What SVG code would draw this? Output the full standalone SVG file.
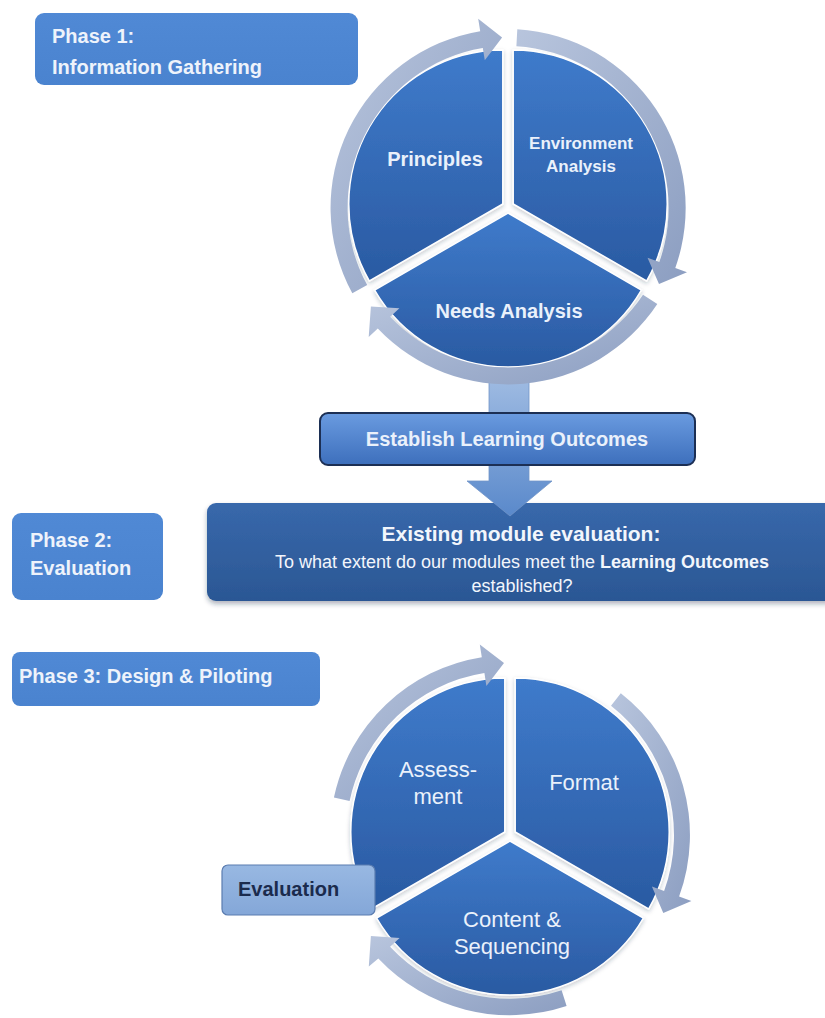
<svg xmlns="http://www.w3.org/2000/svg" width="825" height="1018" viewBox="0 0 825 1018">
  <defs>
    <linearGradient id="gSector" x1="0" y1="0" x2="0" y2="1">
      <stop offset="0" stop-color="#3f7bcb"/>
      <stop offset="1" stop-color="#2a5aa2"/>
    </linearGradient>
    <linearGradient id="gRing" x1="0" y1="0" x2="1" y2="1">
      <stop offset="0" stop-color="#b8c5dd"/>
      <stop offset="1" stop-color="#8c9ec1"/>
    </linearGradient>
    <linearGradient id="gLabel" x1="0" y1="0" x2="0" y2="1">
      <stop offset="0" stop-color="#5089d5"/>
      <stop offset="1" stop-color="#4a83cf"/>
    </linearGradient>
    <linearGradient id="gDark" x1="0" y1="0" x2="0" y2="1">
      <stop offset="0" stop-color="#3868ab"/>
      <stop offset="1" stop-color="#2b5794"/>
    </linearGradient>
    <linearGradient id="gEstablish" x1="0" y1="0" x2="0" y2="1">
      <stop offset="0" stop-color="#6a9be0"/>
      <stop offset="1" stop-color="#3d6fbc"/>
    </linearGradient>
    <linearGradient id="gArrow" x1="0" y1="0" x2="0" y2="1">
      <stop offset="0" stop-color="#9fbbe2"/>
      <stop offset="1" stop-color="#5a89cb"/>
    </linearGradient>
    <linearGradient id="gEval" x1="0" y1="0" x2="0" y2="1">
      <stop offset="0" stop-color="#98b8e2"/>
      <stop offset="1" stop-color="#84a7d8"/>
    </linearGradient>
    <filter id="shadow" x="-10%" y="-10%" width="120%" height="130%">
      <feDropShadow dx="0" dy="3" stdDeviation="2.5" flood-color="#1a2a44" flood-opacity="0.35"/>
    </filter>
    <filter id="softShadow" x="-10%" y="-10%" width="120%" height="130%">
      <feDropShadow dx="0" dy="2" stdDeviation="2" flood-color="#1a2a44" flood-opacity="0.25"/>
    </filter>
  </defs>
  <style>
    text { font-family: "Liberation Sans", Arial, sans-serif; }
    .label { fill: url(#gLabel); }
    .labelText { font-weight: bold; font-size: 20px; fill: #eef3fb; }
    .sector { fill: url(#gSector); stroke: #ffffff; stroke-width: 1.5; filter: url(#softShadow); }
    .ring { fill: url(#gRing); }
    .secBold { font-weight: bold; fill: #eaf1fb; text-anchor: middle; }
    .secReg { font-size: 22px; fill: #eaf1fb; text-anchor: middle; }
    .darkText { fill: #f2f6fc; text-anchor: middle; }
  </style>
  <rect width="825" height="1018" fill="#ffffff"/>

  <!-- Phase 2 dark box (under arrow tip) -->
  <g id="module-evaluation">
    <rect x="207" y="503" width="630" height="98" rx="9" fill="url(#gDark)" filter="url(#shadow)"/>
    <text class="darkText" x="521" y="541" font-size="21" font-weight="bold">Existing module evaluation:</text>
    <text class="darkText" x="522" y="568" font-size="18">To what extent do our modules meet the <tspan font-weight="bold">Learning Outcomes</tspan></text>
    <text class="darkText" x="522" y="592" font-size="18">established?</text>
  </g>

  <!-- Top cycle nodes -->
  <g id="principles">
    <path class="sector" d="M502.8,204 L369.4,281 A154,154 0 0 1 502.8,50 Z"/>
    <text class="secBold" x="435" y="166" font-size="20">Principles</text>
  </g>
  <g id="environment-analysis">
    <path class="sector" d="M513.2,204 L513.2,50 A154,154 0 0 1 646.6,281 Z"/>
    <text class="secBold" x="581" y="149" font-size="17">Environment</text>
    <text class="secBold" x="581" y="172" font-size="17">Analysis</text>
  </g>
  <g id="needs-analysis">
    <path class="sector" d="M508,213 L641.4,290 A154,154 0 0 1 374.6,290 Z"/>
    <text class="secBold" x="509" y="318" font-size="20">Needs Analysis</text>
  </g>

  <!-- Bottom cycle nodes -->
  <g id="assessment">
    <path class="sector" d="M504.8,832 L371.4,909 A154,154 0 0 1 504.8,678 Z"/>
    <text class="secReg" x="438" y="777">Assess-</text>
    <text class="secReg" x="438" y="804">ment</text>
  </g>
  <g id="format">
    <path class="sector" d="M515.2,832 L515.2,678 A154,154 0 0 1 648.6,909 Z"/>
    <text class="secReg" x="584" y="790">Format</text>
  </g>
  <g id="content-sequencing">
    <path class="sector" d="M510,841 L643.4,918 A154,154 0 0 1 376.6,918 Z"/>
    <text class="secReg" x="512" y="927">Content &amp;</text>
    <text class="secReg" x="512" y="954">Sequencing</text>
  </g>

  <!-- Connectors: flow arrow and cycle arrows -->
  <g id="connectors">
    <path d="M489,378 H529 V481 H552 L510,516 L467,481 H489 Z" fill="url(#gArrow)" stroke="#7194c8" stroke-width="0.8"/>
    <!-- top cycle -->
    <path class="ring" d="M352.3,293.3 A179,179 0 0 1 480.2,31.2 L478.2,18.8 L502.1,37.6 L484.8,60.3 L482.8,48 A162,162 0 0 0 367.2,285.1 Z"/>
    <path class="ring" d="M517.3,29.2 A179,179 0 0 1 675.3,267.9 L687,272.2 L659,284 L647.5,257.8 L659.3,262.1 A162,162 0 0 0 516.4,46.2 Z"/>
    <path class="ring" d="M657.3,303.9 A179,179 0 0 1 377.8,328.4 L368.7,336.9 L370.9,306.6 L399.4,308.3 L390.2,316.8 A162,162 0 0 0 643,294.7 Z"/>
    <!-- bottom cycle -->
    <path class="ring" d="M333.9,797.6 A180,180 0 0 1 481.8,657.2 L479.8,644.4 L504,663.1 L486.4,685.9 L484.4,673 A164,164 0 0 0 349.6,800.9 Z"/>
    <path class="ring" d="M620.8,693.2 A180,180 0 0 1 679.1,896.6 L691.4,901 L663.3,913.1 L651.9,886.6 L664.1,891.1 A164,164 0 0 0 611,705.8 Z"/>
    <path class="ring" d="M566.6,1006 A181,181 0 0 1 378.3,958.5 L368.8,966.6 L370.9,936.1 L399.6,938 L390.1,946.8 A164,164 0 0 0 561.6,990.3 Z"/>
  </g>

  <g id="establish-outcomes">
    <rect x="320" y="413" width="375" height="52" rx="8" fill="url(#gEstablish)" stroke="#1c2f54" stroke-width="2"/>
    <text class="secBold" x="507" y="446" font-size="20">Establish Learning Outcomes</text>
  </g>

  <g id="phase1-label">
    <rect class="label" x="35" y="13" width="323" height="72" rx="9"/>
    <text class="labelText" x="52" y="43">Phase 1:</text>
    <text class="labelText" x="52" y="74">Information Gathering</text>
  </g>
  <g id="phase2-label">
    <rect class="label" x="12" y="513" width="151" height="87" rx="9"/>
    <text class="labelText" x="30" y="547">Phase 2:</text>
    <text class="labelText" x="30" y="575">Evaluation</text>
  </g>
  <g id="phase3-label">
    <rect class="label" x="12" y="652" width="308" height="54" rx="8"/>
    <text class="labelText" x="19" y="683" font-size="21">Phase 3: Design &amp; Piloting</text>
  </g>
  <g id="evaluation">
    <rect x="222" y="865" width="153" height="50" rx="6" fill="url(#gEval)" stroke="#5a7cb0" stroke-width="1.2"/>
    <text x="238" y="896" font-size="20" font-weight="bold" fill="#1b2b4d">Evaluation</text>
  </g>
</svg>
